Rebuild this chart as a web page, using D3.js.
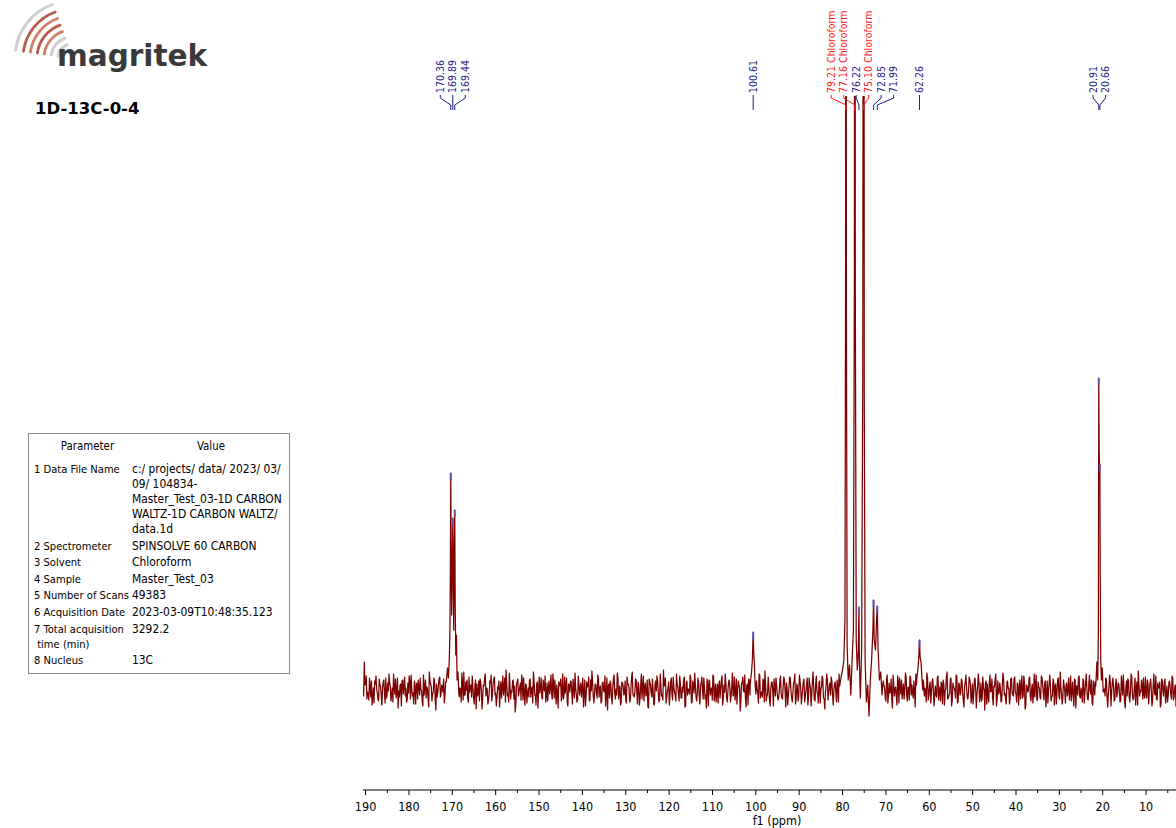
<!DOCTYPE html>
<html>
<head>
<meta charset="utf-8">
<script src="https://cdn.jsdelivr.net/npm/d3@7"></script>
<style>
  body { margin: 0; background: #fff; }
  svg { display: block; font-family: "DejaVu Sans Condensed", "DejaVu Sans", sans-serif; }
</style>
</head>
<body>
<svg id="chart" width="1176" height="828"></svg>
<script>
// baseline noise: two sample grids, 0.3 ppm apart each, offset by half a step
const noiseStep = 0.3;
const noiseStartA = 190.6, noiseStartB = 190.45;
const noiseA = [
  3,28,6,-9,-4,12,-7,-15,2,9,14,-3,-11,5,-6,1,10,-13,-8,7,
  16,4,-5,-12,3,11,-2,-18,-7,6,9,-4,13,2,-10,-3,8,15,-6,-14,
  1,7,-9,4,12,-1,-16,-5,10,3,-8,18,6,-11,-2,9,-20,-7,5,13,
  -4,2,11,-6,-13,8,15,1,-9,-3,6,-15,4,12,-7,0,17,-10,-5,8,
  10,-12,-2,5,14,-8,3,-19,-6,9,11,-1,-9,4,16,2,-14,-4,7,-11,
  6,13,-3,-8,1,-17,8,4,-5,12,20,-6,-12,3,-1,9,-9,-22,5,11,
  -2,7,15,-10,-4,6,-13,2,10,-7,3,18,-5,-15,8,1,-3,12,-9,4,
  14,-6,-11,9,2,-4,16,-8,-1,5,-18,7,11,-3,-9,13,4,-12,6,-2,
  9,-14,3,17,-5,-10,6,1,-7,12,-2,-16,8,4,-11,10,19,-6,-3,5,
  -8,11,2,-13,7,-1,14,-4,-20,6,9,-7,3,15,-9,-5,12,1,-15,8,
  4,-3,-10,13,6,-12,2,18,-6,-2,10,-14,5,-8,16,3,-11,7,-4,-17,
  11,5,-7,1,-15,9,14,-2,-9,4,-5,20,7,-13,-1,8,-6,12,-10,2,
  -5,16,3,-11,6,-8,-2,13,-16,9,1,-4,11,-12,5,17,-7,-3,8,-14,
  7,-1,12,-9,-18,4,10,-5,2,15,-11,6,-3,-13,9,1,14,-8,-2,6,
  -12,8,3,-6,17,-4,-10,11,-1,5,-21,7,13,-2,-8,4,-15,10,2,-5,
  12,-9,6,1,-13,15,-3,-7,9,19,-11,-4,3,-16,8,-1,11,-6,5,-10,
  -2,14,-8,4,10,-17,2,-5,13,-1,-12,7,16,-9,3,-6,9,-14,1,11,
  -7,5,-15,12,2,-4,18,-10,6,-2,-13,9,1,14,-8,-19,4,10,-3,7,
  13,-5,-1,8,-12,3,16,-7,-3,11,-16,5,9,-10,2,-6,15,-2,-11,6,
  -4,10,1,-14,7,19,-9,-2,4,-17,12,-6,8,3,-10,13,-1,-8,6,-15,
  9,2,-11,15,-5,-3,11,-18,6,1,-7,14,-13,4,10,-2,-9,17,-6,3,
  -10,12,5,-8,-1,16,-14,3,-4,9,-19,7,2,-12,13,-6,8,-3,11,-16,
  4,-7,14,-2,-11,6,10,-15,1,18,-8,-4,12,-10,3,-1,15,-13,7,-5,
  11,-3,-17,8,2,-9,13,5,-6,-14,10,1,-4,16,-12,7,-8,3,-20,9,
  6,-12,15,-1,-7,4,12,-16,9,-3,2,-11,17,-5,-9,8,1,-14,11,-2,
  -6,13,-4,7,-15,10,3,-8,14,-19,5,-2,11,-7,1,-13,16,4,-10,8,
  2,-9,12,-3,6,-17,9,-1,15,-11,-5,8,3,-14,10,-6,18,-4,-8,5,
  -13,7,1,-10,14,-2,-6,11,-18,4,13,-7,2,-12,9,-3,16,-9,6,-1,
  10,-15,4,8,-6,-11,17,-2,5,-13,1,12,-8,-4,15,-16,7,3,-9,11,
  -3,6,-12,14,-5,2,-18,9,11,-7,-1,13,-10,4,-15,8,19,-6,-2,5,
  12,-8,-3,10,-14,6,1,-11,16,-5,-9,7,3,-17,11,-2,8,-13,4,-6,
  9,-4,14,-10,2,-16,7,12,-6,-1,10,-12,5,-8,15,-3,-7,11,-15,3
];
const noiseB = [
  -6,5,14,-2,-10,3,9,-7,-13,6,1,-9,11,4,-15,8,-3,12,-5,-1,
  7,-11,2,16,-4,-8,12,-1,5,-16,10,3,-6,-12,7,14,-9,1,-3,9,
  -14,6,10,-5,1,-11,15,4,-8,2,-17,9,3,-4,12,-10,6,-2,11,-7,
  5,-2,-13,8,14,-6,-1,10,-15,4,9,-3,-9,13,2,-12,7,18,-5,0,
  -9,13,4,-7,2,-14,10,6,-3,-11,8,-19,5,12,-6,1,-10,9,15,-4,
  11,-5,-16,3,9,-1,-8,14,2,-12,6,-4,17,-9,-2,10,4,-14,8,-6,
  3,-10,8,12,-15,5,-3,-7,11,1,-13,9,-5,6,-18,13,2,-8,10,-1,
  -12,7,1,-4,15,-9,6,10,-14,-2,8,4,-11,16,-6,-3,12,-16,5,9,
  -3,11,-8,2,-12,14,-5,7,1,-17,10,-6,3,13,-10,-1,9,-13,6,-4,
  15,-7,4,-11,8,-2,-16,12,3,-8,6,-14,11,-3,1,17,-9,4,-12,7,
  -5,9,-13,6,2,-10,13,-4,-7,11,-2,8,-15,5,-9,14,3,-6,10,-18,
  8,-3,11,-14,5,-1,9,-12,16,-6,-10,4,12,-8,2,-15,7,-4,13,-2,
  -11,6,-4,14,-8,3,10,-17,7,-5,1,15,-13,9,-3,6,-11,12,-7,4,
  13,-9,2,-5,11,-16,8,1,-10,14,-4,-12,6,3,-8,10,-15,5,16,-7,
  -2,10,-12,4,-6,13,-3,-14,9,2,-11,7,-1,15,-17,6,11,-5,-9,3,
  6,-13,9,-3,16,-8,-2,11,-12,5,-6,13,-10,1,8,-16,4,12,-4,-8,
  10,-4,-9,13,-1,7,-15,3,12,-7,-3,9,-14,6,-11,15,1,-6,8,-12,
  -1,12,-7,5,-16,9,2,-11,14,-4,7,-13,3,11,-9,-2,16,-10,4,-5,
  8,-15,6,-2,10,-12,4,15,-8,-3,13,-10,1,-6,9,-18,11,2,-7,12,
  -9,3,14,-6,-11,8,-4,10,-1,-14,6,16,-12,2,-5,12,-8,7,-16,5,
  4,-8,11,-13,7,-2,-10,15,-6,3,-15,8,12,-4,-9,6,-1,13,-11,2,
  14,-5,-3,9,-17,5,11,-8,2,-12,10,-6,-2,17,-10,4,-13,8,1,-7,
  -4,12,-10,3,8,-14,6,-1,13,-9,-5,11,-16,7,2,-8,14,-12,5,-3,
  9,-11,4,15,-7,-2,10,-13,6,-4,12,-18,3,8,-6,-11,13,-1,7,-14,
  -6,8,-2,11,-15,3,16,-9,-4,7,-12,5,10,-3,-14,9,2,-8,12,-5,
  11,-3,-12,6,1,-9,14,-6,8,-16,4,-1,13,-11,6,-4,-7,15,-10,3,
  -8,14,5,-10,9,-4,-13,7,2,-7,11,-15,6,-2,12,-9,3,-14,10,-1,
  5,-6,12,-2,-11,8,-16,10,4,-5,14,-8,-3,11,-13,7,1,-10,15,-4,
  -12,9,-5,13,2,-8,6,-14,11,-1,-6,10,-17,4,8,-3,12,-11,5,-7,
  7,-2,-10,4,15,-13,3,-6,9,-12,16,-4,-8,12,2,-15,6,-1,10,-9,
  -5,13,-8,6,-1,11,-16,5,-3,14,-10,2,8,-14,9,-6,11,-4,-12,7,
  3,-9,12,-7,5,-13,10,1,-11,8,-4,15,-6,-2,13,-16,4,9,-8,2
];

// signal regions [ppm, intensity]
const trace170 = [[171.4,8],[171.1,22],[170.9,12],[170.7,30],[170.55,60],[170.45,120],[170.36,217],
  [170.28,140],[170.15,75],[170.0,130],[169.89,172],[169.80,120],[169.68,60],[169.55,140],[169.44,180],
  [169.34,90],[169.2,35],[169.05,55],[168.9,10],[168.7,18],[168.5,-3]];
const trace100 = [[101.3,5],[101.0,18],[100.8,30],[100.61,58],[100.5,38],[100.35,28],[100.2,8],[100.0,-4]];
const traceCl = [[80.6,6],[80.3,14],[80.0,20],[79.7,30],[79.45,70],[79.30,400],[79.21,1300],[79.12,400],
  [78.95,45],[78.7,10],[78.4,25],[78.1,-5],[77.8,30],[77.5,60],[77.28,400],[77.16,1300],[77.06,400],
  [76.85,50],[76.6,20],[76.35,40],[76.22,83],[76.12,30],[75.9,-8],[75.6,40],[75.35,300],[75.10,1300],
  [75.00,300],[74.8,30],[74.5,-12],[74.2,5],[73.9,-26],[73.6,10],[73.3,30],[73.0,60],[72.85,90],
  [72.7,50],[72.4,40],[72.15,70],[71.99,84],[71.8,40],[71.5,10],[71.2,18],[70.9,-5]];
const trace62 = [[62.9,10],[62.6,22],[62.4,35],[62.26,50],[62.1,32],[61.9,28],[61.7,12],[61.5,0]];
const trace20 = [[21.6,4],[21.35,28],[21.15,10],[21.0,60],[20.93,250],[20.91,312],[20.82,240],
  [20.72,222],[20.66,226],[20.58,120],[20.45,30],[20.3,10],[20.1,22],[19.9,-2]];

// peak list
const peakPpm = [170.36,169.89,169.44,100.61,79.21,77.16,76.22,75.10,72.85,71.99,62.26,20.91,20.66];
const peakInt = [217,172,180,58,1300,1300,83,1300,90,84,50,312,226];
const peakSolvent = [0,0,0,0,1,1,0,1,0,0,0,0,0];

const axisTicks = [190,180,170,160,150,140,130,120,110,100,90,80,70,60,50,40,30,20,10];
const minorTicks = [185,175,165,155,145,135,125,115,105,95,85,75,65,55,45,35,25,15,5];

const paramNames = [["1 Data File Name"],["2 Spectrometer"],["3 Solvent"],["4 Sample"],
  ["5 Number of Scans"],["6 Acquisition Date"],["7 Total acquisition"," time (min)"],["8 Nucleus"]];
const paramValues = [["c:/ projects/ data/ 2023/ 03/","09/ 104834-","Master_Test_03-1D CARBON","WALTZ-1D CARBON WALTZ/","data.1d"],
  ["SPINSOLVE 60 CARBON"],["Chloroform"],["Master_Test_03"],["49383"],["2023-03-09T10:48:35.123"],["3292.2"],["13C"]];

const svg = d3.select("#chart");

// ---- logo ----
const logoRed = [28, 35, 42, 49];
const logoGray = [14, 21, 57];
const logo = svg.append("g");
const arcPath = (r) => { const p = d3.path(); p.arc(72, 58, r, 188 * Math.PI / 180, 250 * Math.PI / 180); return p.toString(); };
logo.selectAll(".g").data(logoGray).enter().append("path")
    .attr("d", arcPath).attr("fill", "none").attr("stroke", "#cfcfcf").attr("stroke-width", 3).attr("stroke-linecap", "round");
logo.selectAll(".r").data(logoRed).enter().append("path")
    .attr("d", arcPath).attr("fill", "none").attr("stroke", (d, i) => i % 2 ? "#a8402a" : "#c86a50")
    .attr("stroke-width", 2.8).attr("stroke-linecap", "round").attr("opacity", 0.85);
logo.append("text").attr("x", 57).attr("y", 66).text("magritek")
    .style("font-family", "'DejaVu Sans'").style("font-weight", "bold").style("font-size", "29.5px").attr("fill", "#3a3a3a");

svg.append("text").attr("x", 35).attr("y", 114).text("1D-13C-0-4")
    .style("font-family", "'DejaVu Sans'").style("font-weight", "bold").style("font-size", "16.5px").attr("fill", "#000");

// ---- parameter table ----
const tbl = svg.append("g").style("font-size", "11.4px").attr("fill", "#000");
tbl.append("rect").attr("x", 28.5).attr("y", 433.5).attr("width", 261).attr("height", 240)
    .attr("fill", "none").attr("stroke", "#8a8a8a");
tbl.append("text").attr("x", 87.5).attr("y", 450).attr("text-anchor", "middle").text("Parameter");
tbl.append("text").attr("x", 211).attr("y", 450).attr("text-anchor", "middle").text("Value");
let rowY = 473;
paramNames.forEach((names, i) => {
  const vals = paramValues[i];
  names.forEach((t, k) => tbl.append("text").attr("x", 34).attr("y", rowY + k * 15)
      .attr("xml:space", "preserve").style("font-size", "11.1px").text(t));
  vals.forEach((t, k) => tbl.append("text").attr("x", 132).attr("y", rowY + k * 15)
      .style("font-size", "11.9px").text(t));
  rowY += (Math.max(names.length, vals.length) - 1) * 15 + 16.6;
});

// ---- spectrum ----
const x = d3.scaleLinear().domain([190.6, 3.1]).range([363, 1176]);
const y = d3.scaleLinear().domain([-100, 590]).range([790, 100]);

const regions = [trace170, trace100, traceCl, trace62, trace20];
let pts = noiseA.map((v, i) => [noiseStartA - i * noiseStep, v])
    .concat(noiseB.map((v, i) => [noiseStartB - i * noiseStep, v]));
regions.forEach(t => {
  const hi = t[0][0], lo = t[t.length - 1][0];
  pts = pts.filter(p => p[0] > hi || p[0] < lo);
});
pts = pts.concat(...regions).sort((a, b) => b[0] - a[0]);

svg.append("clipPath").attr("id", "plotclip").append("rect")
    .attr("x", 363).attr("y", 96).attr("width", 813).attr("height", 700);

const line = d3.line().x(d => x(d[0])).y(d => y(d[1]));
svg.append("path").datum(pts).attr("clip-path", "url(#plotclip)")
    .attr("d", line).attr("fill", "none").attr("stroke", "#7d0000").attr("stroke-width", 1.25)
    .attr("stroke-linejoin", "round");

// peak top markers
const peaks = peakPpm.map((p, i) => ({ppm: p, h: peakInt[i], solvent: peakSolvent[i]}));
svg.append("g").selectAll("line").data(peaks.filter(d => !d.solvent)).enter().append("line")
    .attr("x1", d => x(d.ppm)).attr("x2", d => x(d.ppm))
    .attr("y1", d => y(d.h)).attr("y2", d => y(d.h) + 7)
    .attr("stroke", "#5a5ac8").attr("stroke-opacity", 0.8).attr("stroke-width", 2.2);

// peak labels, spread apart where they would collide
function spread(xs, gap) {
  let cl = xs.map(v => ({sum: v, n: 1}));
  let changed = true;
  while (changed) {
    changed = false;
    for (let i = 0; i < cl.length - 1; i++) {
      const a = cl[i], b = cl[i + 1];
      const aRight = a.sum / a.n + (a.n - 1) * gap / 2;
      const bLeft = b.sum / b.n - (b.n - 1) * gap / 2;
      if (bLeft - aRight < gap) { cl.splice(i, 2, {sum: a.sum + b.sum, n: a.n + b.n}); changed = true; break; }
    }
  }
  const out = [];
  cl.forEach(c => { const m = c.sum / c.n; for (let k = 0; k < c.n; k++) out.push(m + (k - (c.n - 1) / 2) * gap); });
  return out;
}
const labX = spread(peaks.map(d => x(d.ppm)), 12.5);
const labels = svg.append("g").style("font-size", "10.5px");
peaks.forEach((d, i) => {
  const col = d.solvent ? "#ff1a1a" : "#1c1c8c";
  const px = x(d.ppm), lx = labX[i];
  labels.append("text").attr("transform", "translate(" + lx + ",93) rotate(-90)")
      .attr("dy", "0.35em").attr("fill", col)
      .text(d.solvent ? d.ppm.toFixed(2) + " Chloroform" : d.ppm.toFixed(2));
  labels.append("path").attr("d", "M" + lx + ",95V98L" + px + ",105V110")
      .attr("fill", "none").attr("stroke", col).attr("stroke-width", 1);
});

// ---- axis ----
const ax = svg.append("g").attr("transform", "translate(0,790)");
ax.append("line").attr("x1", 363).attr("x2", 1176).attr("stroke", "#000");
ax.selectAll(".mj").data(axisTicks).enter().append("line")
    .attr("x1", d => x(d)).attr("x2", d => x(d)).attr("y2", 5).attr("stroke", "#000");
ax.selectAll(".mn").data(minorTicks.filter(d => x(d) <= 1176)).enter().append("line")
    .attr("x1", d => x(d)).attr("x2", d => x(d)).attr("y2", 3).attr("stroke", "#000");
ax.selectAll(".tl").data(axisTicks).enter().append("text")
    .attr("x", d => x(d)).attr("y", 21).attr("text-anchor", "middle")
    .style("font-size", "12.5px").attr("fill", "#000").text(d => d);
ax.append("text").attr("x", 777).attr("y", 35).attr("text-anchor", "middle")
    .style("font-size", "12.5px").attr("fill", "#000").text("f1 (ppm)");
</script>
</body>
</html>
